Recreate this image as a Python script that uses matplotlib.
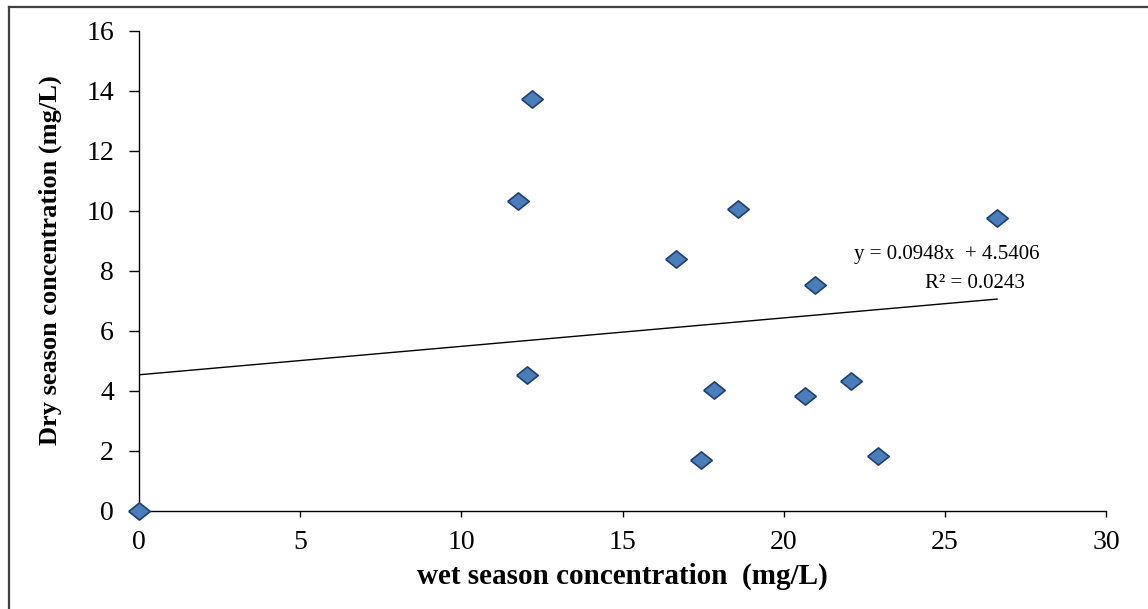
import matplotlib.pyplot as plt
from matplotlib.lines import Line2D
import numpy as np

# values
wet = [0.0, 12.19, 11.76, 12.04, 16.66, 20.97, 18.58, 17.84, 17.44, 20.66, 22.09, 22.93, 26.62]
dry = [0.0, 13.75, 10.32, 4.55, 8.40, 7.55, 10.08, 4.05, 1.70, 3.85, 4.32, 1.83, 9.77]
slope = 0.0948
intercept = 4.5406
r2 = 0.0243

plt.rcParams['font.family'] = ['Liberation Serif', 'DejaVu Serif']

W, H = 1148, 609
fig = plt.figure(figsize=(W / 100, H / 100), dpi=100)
ax = fig.add_axes([139/W, 1 - 511/H, (1106-139)/W, (511-31)/H])

# flattened diamond like the excel marker
diamond = [(-1, 0), (0, 0.8), (1, 0), (0, -0.8), (-1, 0)]
ax.scatter(wet, dry, marker=diamond, s=240, facecolor='#4a7ebb', edgecolor='#1f3f73',
           linewidth=1.2, zorder=3, clip_on=False)

xs = np.array([0, max(wet)])
ax.plot(xs, slope * xs + intercept, color='black', linewidth=1.0, zorder=2)

fig.text(947/W, 1 - 255/H, 'y = %.4fx  + %.4f' % (slope, intercept), fontsize=15,
         ha='center', va='center')
fig.text(975/W, 1 - 283/H, 'R² = %.4f' % r2, fontsize=15, ha='center', va='center')

ax.set_xlim(0, 30)
ax.set_ylim(0, 16)
ax.set_xticks(range(0, 31, 5))
ax.set_yticks(range(0, 17, 2))
ax.tick_params(labelsize=20, width=1, direction='out')
ax.tick_params(axis='y', length=7, pad=11)
ax.tick_params(axis='x', length=4.5, pad=9)
for s in ['top', 'right']:
    ax.spines[s].set_visible(False)
for s in ['left', 'bottom']:
    ax.spines[s].set_linewidth(1.0)

ax.set_xlabel('wet season concentration  (mg/L)', fontsize=21, fontweight='bold', va='center')
ax.set_ylabel('Dry season concentration (mg/L)', fontsize=19, fontweight='bold', va='center')
ax.xaxis.set_label_coords((622 - 139) / 967, (511 - 576) / 480)
ax.yaxis.set_label_coords((50 - 139) / 967, (511 - 260) / 480)

# outer frame lines at left and top
fig.add_artist(Line2D([8.5/W, 8.5/W], [0, 1 - 7/H], color='#404040', linewidth=1.6))
fig.add_artist(Line2D([8.5/W, 1], [1 - 7/H, 1 - 7/H], color='#404040', linewidth=1.6))

fig.savefig('out.png', dpi=100)
